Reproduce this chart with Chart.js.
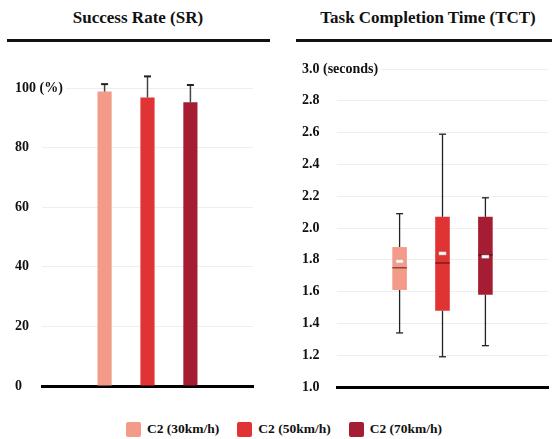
<!DOCTYPE html>
<html>
<head>
<meta charset="utf-8">
<script src="https://cdn.jsdelivr.net/npm/chart.js@4.4.1/dist/chart.umd.min.js"></script>
<style>
  body { margin: 0; background: #fff; font-family: "Liberation Serif", "Times New Roman", Times, "DejaVu Serif", serif; }
  #wrap { position: relative; width: 552px; height: 439px; overflow: hidden; }
  .title { position: absolute; top: 8px; font-weight: bold; font-size: 17px; text-align: center; color: #111; }
  .rule { position: absolute; top: 39px; height: 3px; background: #111; }
  .panel { position: absolute; top: 44px; width: 276px; height: 356px; }
  #legend { position: absolute; top: 421px; left: 8px; width: 552px; display: flex; justify-content: center; font-weight: bold; font-size: 13.5px; color: #111; }
  .item { display: flex; align-items: center; margin: 0 9px; }
  .sw { width: 15px; height: 15px; border-radius: 2px; margin-right: 6px; }
</style>
</head>
<body>
<div id="wrap">
  <div class="title" style="left:0;width:276px;">Success Rate (SR)</div>
  <div class="rule" style="left:7px;width:263px;"></div>
  <div class="title" style="left:300px;width:256px;">Task Completion Time (TCT)</div>
  <div class="rule" style="left:296px;width:256px;"></div>
  <div class="panel" style="left:0;"><canvas id="srChart"></canvas></div>
  <div class="panel" style="left:276px;"><canvas id="tctChart"></canvas></div>
  <div id="legend"></div>
</div>
<script>
// series
const series = ["C2 (30km/h)", "C2 (50km/h)", "C2 (70km/h)"];
const colors = ["#f39a89", "#e03334", "#a51d33"];

// success rate (%) and its error
const srMean = [98.8, 96.8, 95.2];
const srErr = [2.5, 7.1, 5.8];

// task completion time (seconds)
const tctMin = [1.34, 1.19, 1.26];
const tctQ1 = [1.61, 1.48, 1.58];
const tctMedian = [1.75, 1.78, 1.83];
const tctMean = [1.79, 1.84, 1.82];
const tctQ3 = [1.88, 2.07, 2.07];
const tctMax = [2.09, 2.59, 2.19];

const srTicks = { min: 0, max: 100, step: 20, top: "100 (%)" };
const tctTicks = { min: 1.0, max: 3.0, step: 0.2, top: "3.0 (seconds)" };

const tickFont = { family: "'Liberation Serif', 'Times New Roman', 'DejaVu Serif', serif", size: 14, weight: "bold" };

// legend
const legend = document.getElementById("legend");
series.forEach((name, i) => {
  const item = document.createElement("div");
  item.className = "item";
  item.innerHTML = `<span class="sw" style="background:${colors[i]}"></span>${name}`;
  legend.appendChild(item);
});

// labels are mirrored and pulled back to the left edge so the long
// top label can run into the plot area
function yScale(t, axisWidth) {
  return {
    min: t.min,
    max: t.max,
    afterFit: (s) => { s.width = axisWidth; },
    border: { display: false },
    grid: { color: "#eeeeee", lineWidth: 1, drawTicks: false },
    ticks: {
      stepSize: t.step,
      mirror: true,
      padding: -axisWidth,
      crossAlign: "near",
      color: "#111",
      font: tickFont,
      showLabelBackdrop: true,
      backdropColor: "#ffffff",
      backdropPadding: 3,
      callback: (v) => {
        if (Math.abs(v - t.max) < 1e-9) return t.top;
        return t.step < 1 ? v.toFixed(1) : String(v);
      },
    },
  };
}

const xScale = {
  afterFit: (s) => { s.height = 0; },
  grid: { display: false, drawTicks: false },
  ticks: { display: false },
  border: { display: true, color: "#000", width: 3 },
};

// error bars on top of the SR bars
const errorBars = {
  id: "errorBars",
  afterDatasetsDraw(chart) {
    const ctx = chart.ctx;
    const y = chart.scales.y;
    ctx.save();
    chart.data.datasets.forEach((ds, i) => {
      const el = chart.getDatasetMeta(i).data[0];
      const yTop = y.getPixelForValue(srMean[i] + srErr[i]);
      ctx.strokeStyle = "#444";
      ctx.lineWidth = 1.5;
      ctx.beginPath();
      ctx.moveTo(el.x, el.y);
      ctx.lineTo(el.x, yTop);
      ctx.stroke();
      ctx.strokeStyle = "#222";
      ctx.lineWidth = 2;
      ctx.beginPath();
      ctx.moveTo(el.x - 3.5, yTop);
      ctx.lineTo(el.x + 3.5, yTop);
      ctx.stroke();
    });
    ctx.restore();
  },
};

// whiskers, median and mean for the TCT boxes
const boxParts = {
  id: "boxParts",
  beforeDatasetsDraw(chart) {
    const ctx = chart.ctx;
    const y = chart.scales.y;
    ctx.save();
    ctx.strokeStyle = "#222";
    ctx.lineWidth = 1.3;
    chart.data.datasets.forEach((ds, i) => {
      const el = chart.getDatasetMeta(i).data[0];
      const pts = [[tctQ3[i], tctMax[i]], [tctQ1[i], tctMin[i]]];
      pts.forEach(([a, b]) => {
        ctx.beginPath();
        ctx.moveTo(el.x, y.getPixelForValue(a));
        ctx.lineTo(el.x, y.getPixelForValue(b));
        ctx.stroke();
        ctx.beginPath();
        ctx.moveTo(el.x - 3.5, y.getPixelForValue(b));
        ctx.lineTo(el.x + 3.5, y.getPixelForValue(b));
        ctx.stroke();
      });
    });
    ctx.restore();
  },
  afterDatasetsDraw(chart) {
    const ctx = chart.ctx;
    const y = chart.scales.y;
    ctx.save();
    chart.data.datasets.forEach((ds, i) => {
      const el = chart.getDatasetMeta(i).data[0];
      const half = el.width / 2;
      const ym = y.getPixelForValue(tctMedian[i]);
      ctx.strokeStyle = "rgba(60,0,0,0.55)";
      ctx.lineWidth = 1.5;
      ctx.beginPath();
      ctx.moveTo(el.x - half, ym);
      ctx.lineTo(el.x + half, ym);
      ctx.stroke();
      const ya = y.getPixelForValue(tctMean[i]);
      ctx.fillStyle = "#ffffff";
      ctx.strokeStyle = "rgba(200,200,200,0.9)";
      ctx.lineWidth = 0.6;
      ctx.fillRect(el.x - 3.5, ya - 1.5, 7, 3);
      ctx.strokeRect(el.x - 3.5, ya - 1.5, 7, 3);
    });
    ctx.restore();
  },
};

const common = {
  responsive: true,
  maintainAspectRatio: false,
  animation: false,
  plugins: { legend: { display: false }, tooltip: { enabled: false } },
};

new Chart(document.getElementById("srChart"), {
  type: "bar",
  data: {
    labels: [""],
    datasets: series.map((name, i) => ({
      label: name,
      data: [srMean[i]],
      backgroundColor: colors[i],
      categoryPercentage: 0.61,
      barPercentage: 0.33,
    })),
  },
  options: {
    ...common,
    layout: { padding: { left: 15, right: 23, top: 44, bottom: 14 } },
    scales: { x: xScale, y: yScale(srTicks, 27) },
  },
  plugins: [errorBars],
});

new Chart(document.getElementById("tctChart"), {
  type: "bar",
  data: {
    labels: [""],
    datasets: series.map((name, i) => ({
      label: name,
      data: [[tctQ1[i], tctQ3[i]]],
      backgroundColor: colors[i],
      categoryPercentage: 0.61,
      barPercentage: 0.34,
    })),
  },
  options: {
    ...common,
    layout: { padding: { left: 26, right: 4, top: 25, bottom: 13 } },
    scales: { x: xScale, y: yScale(tctTicks, 35) },
  },
  plugins: [boxParts],
});
</script>
</body>
</html>
